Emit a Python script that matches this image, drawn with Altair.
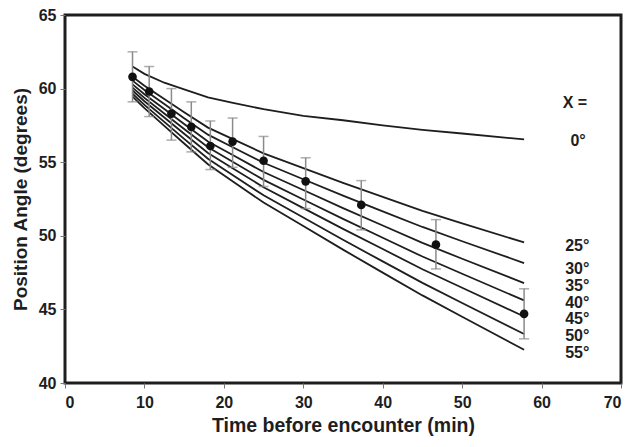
import altair as alt
import pandas as pd

# Observed points with error bars
obs_time = [8.5, 10.6, 13.4, 15.9, 18.3, 21.1, 25.0, 30.3, 37.3, 46.7, 57.8]
obs_angle = [60.8, 59.8, 58.3, 57.4, 56.1, 56.4, 55.1, 53.7, 52.1, 49.4, 44.7]
obs_hi = [62.5, 61.5, 60.0, 59.1, 57.8, 58.0, 56.75, 55.3, 53.75, 51.1, 46.4]
obs_lo = [59.1, 58.1, 56.5, 55.7, 54.5, 54.65, 53.35, 51.85, 50.4, 47.75, 43.0]

# Model curves
model_time = [8.5, 10, 12.5, 15, 18, 21, 25, 30, 35, 40, 45, 50, 57.8]
curve_0 = [61.5, 61.0, 60.4, 59.95, 59.4, 59.05, 58.6, 58.15, 57.85, 57.5, 57.2, 56.95, 56.55]
curve_25 = [60.8, 60.2, 59.3, 58.4, 57.35, 56.6, 55.6, 54.6, 53.6, 52.65, 51.7, 50.85, 49.55]
curve_30 = [60.54, 59.91, 58.95, 57.99, 56.87, 56.05, 54.96, 53.84, 52.73, 51.66, 50.6, 49.63, 48.15]
curve_35 = [60.29, 59.62, 58.61, 57.59, 56.41, 55.52, 54.33, 53.11, 51.88, 50.7, 49.52, 48.44, 46.79]
curve_40 = [60.07, 59.37, 58.31, 57.25, 56.01, 55.06, 53.8, 52.47, 51.15, 49.87, 48.59, 47.42, 45.61]
curve_45 = [59.87, 59.14, 58.04, 56.93, 55.63, 54.63, 53.3, 51.88, 50.47, 49.1, 47.73, 46.47, 44.52]
curve_50 = [59.65, 58.89, 57.74, 56.58, 55.23, 54.16, 52.75, 51.24, 49.73, 48.26, 46.8, 45.43, 43.33]
curve_55 = [59.45, 58.67, 57.47, 56.27, 54.86, 53.74, 52.26, 50.66, 49.06, 47.5, 45.95, 44.5, 42.26]

curve_names = ["0", "25", "30", "35", "40", "45", "50", "55"]
curves = [curve_0, curve_25, curve_30, curve_35, curve_40, curve_45, curve_50, curve_55]

# Right-side labels
label_text = ["X =", "0°", "25°", "30°", "35°", "40°", "45°", "50°", "55°"]
label_x = [64.2, 64.6, 64.5, 64.5, 64.5, 64.5, 64.5, 64.5, 64.5]
label_y = [59.04, 56.41, 49.28, 47.74, 46.61, 45.43, 44.37, 43.21, 42.04]

FONT = "Liberation Sans, Arial, sans-serif"
INK = "#1e1e1e"

rows = []
for name, vals in zip(curve_names, curves):
    for t, v in zip(model_time, vals):
        rows.append({"t": t, "v": v, "X": name})
curve_df = pd.DataFrame(rows)

obs_df = pd.DataFrame({"t": obs_time, "v": obs_angle, "hi": obs_hi, "lo": obs_lo})
lab_df = pd.DataFrame({"t": label_x, "v": label_y, "txt": label_text})

xscale = alt.Scale(domain=[0, 70], nice=False)
yscale = alt.Scale(domain=[40, 65], nice=False, zero=False)

xenc = alt.X("t:Q", scale=xscale,
             axis=alt.Axis(title="Time before encounter (min)", values=[0, 10, 20, 30, 40, 50, 60, 70],
                           grid=False, domain=False, tickColor="#777", tickSize=5, tickWidth=1,
                           labelFont=FONT, labelFontSize=16, labelFontWeight="bold", labelColor=INK,
                           labelPadding=6, titleFont=FONT, titleFontSize=19.5, titleFontWeight="bold",
                           titleColor=INK, titlePadding=6))
yenc = alt.Y("v:Q", scale=yscale,
             axis=alt.Axis(title="Position Angle (degrees)", values=[40, 45, 50, 55, 60, 65],
                           grid=False, domain=False, tickColor="#777", tickSize=5, tickWidth=1,
                           labelFont=FONT, labelFontSize=16, labelFontWeight="bold", labelColor=INK,
                           labelPadding=4, titleFont=FONT, titleFontSize=19, titleFontWeight="bold",
                           titleColor=INK, titlePadding=8))

lines = alt.Chart(curve_df).mark_line(color=INK, strokeWidth=1.8).encode(
    x=xenc, y=yenc, detail="X:N", order="t:Q")

bars = alt.Chart(obs_df).mark_rule(color="#8a8a8a", strokeWidth=1.5).encode(
    x="t:Q", y="lo:Q", y2="hi:Q")
cap_hi = alt.Chart(obs_df).mark_tick(color="#8a8a8a", thickness=1.5, size=10, orient="horizontal").encode(
    x="t:Q", y="hi:Q")
cap_lo = alt.Chart(obs_df).mark_tick(color="#8a8a8a", thickness=1.5, size=10, orient="horizontal").encode(
    x="t:Q", y="lo:Q")
dots = alt.Chart(obs_df).mark_point(filled=True, color="#111", size=75, opacity=1).encode(
    x="t:Q", y="v:Q")

labels = alt.Chart(lab_df).mark_text(font=FONT, fontSize=16, fontWeight="bold", color=INK,
                                     align="center", baseline="middle").encode(
    x="t:Q", y="v:Q", text="txt:N")

chart = alt.layer(lines, bars, cap_hi, cap_lo, dots, labels).properties(
    width=556, height=368,
    autosize=alt.AutoSizeParams(type="none"),
    padding={"left": 65, "top": 15, "right": 10, "bottom": 64},
    background="white",
).configure_view(stroke=INK, strokeWidth=3)

chart.save("out.html", embed_options={"renderer": "svg", "actions": False})
